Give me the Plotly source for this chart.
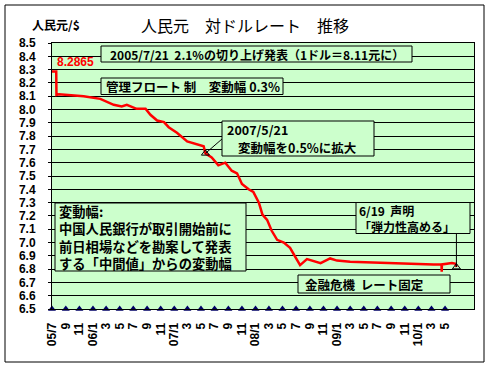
import plotly.graph_objects as go
import pandas as pd

# ---------------- data ----------------
rate_dates = [
    "2005-07-01", "2005-07-20", "2005-07-21", "2005-08-01", "2005-11-20",
    "2006-02-03", "2006-04-04", "2006-05-10", "2006-06-02", "2006-07-16",
    "2006-08-25", "2006-09-16", "2006-10-16", "2006-11-16", "2006-12-07",
    "2007-01-13", "2007-02-28", "2007-04-13", "2007-05-13", "2007-05-21",
    "2007-06-18", "2007-07-18", "2007-08-18", "2007-09-16", "2007-10-10",
    "2007-11-01", "2007-12-01", "2007-12-22", "2008-01-16", "2008-02-01",
    "2008-02-22", "2008-03-13", "2008-04-07", "2008-05-07", "2008-06-04",
    "2008-06-28", "2008-07-19", "2008-08-19", "2008-09-19", "2008-10-19",
    "2008-12-01", "2009-01-01", "2009-03-01", "2009-05-15", "2009-07-28",
    "2009-10-12", "2009-12-25", "2010-03-10", "2010-04-15", "2010-04-16",
    "2010-04-17", "2010-06-01", "2010-06-18", "2010-06-21",
]
rate_values = [
    8.2865, 8.2865, 8.110, 8.115, 8.100,
    8.080, 8.035, 8.023, 8.035, 8.005,
    8.005, 7.960, 7.917, 7.905, 7.867,
    7.825, 7.760, 7.742, 7.724, 7.670,
    7.640, 7.580, 7.600, 7.540, 7.520,
    7.440, 7.400, 7.380, 7.300, 7.210,
    7.170, 7.090, 7.020, 7.000, 6.960,
    6.890, 6.830, 6.875, 6.860, 6.845,
    6.880, 6.864, 6.855, 6.850, 6.845,
    6.840, 6.840, 6.835, 6.835, 6.780,
    6.835, 6.845, 6.840, 6.815,
]

tick_dates = [
    "2005-07-01", "2005-09-01", "2005-11-01", "2006-01-01", "2006-03-01",
    "2006-05-01", "2006-07-01", "2006-09-01", "2006-11-01", "2007-01-01",
    "2007-03-01", "2007-05-01", "2007-07-01", "2007-09-01", "2007-11-01",
    "2008-01-01", "2008-03-01", "2008-05-01", "2008-07-01", "2008-09-01",
    "2008-11-01", "2009-01-01", "2009-03-01", "2009-05-01", "2009-07-01",
    "2009-09-01", "2009-11-01", "2010-01-01", "2010-03-01", "2010-05-01",
]
tick_labels = [
    "05/7", "9", "11", "06/1", "3", "5", "7", "9", "11", "07/1",
    "3", "5", "7", "9", "11", "08/1", "3", "5", "7", "9",
    "11", "09/1", "3", "5", "7", "9", "11", "10/1", "3", "5",
]

callout_dates = ["2007-05-21", "2010-06-21"]
callout_values = [7.670, 6.815]

y_ticks = [round(6.5 + 0.1 * i, 1) for i in range(21)]

# ---------------- layout geometry ----------------
W, H = 491, 368
L, R, T, B = 52, 17, 43, 59
PW = W - L - R
PH = H - T - B
X_START, X_END = "2005-07-01", "2010-09-08"
Y_MIN, Y_MAX = 6.5, 8.5


def fx(px):
    return (px - L) / PW


def fy(py):
    return (H - B - py) / PH


t0 = pd.Timestamp(X_START)
t1 = pd.Timestamp(X_END)


def dx(d):
    return (pd.Timestamp(d) - t0) / (t1 - t0)


def dy(v):
    return (v - Y_MIN) / (Y_MAX - Y_MIN)


JP = "Noto Sans CJK JP"
GREEN = "#CCFFCC"

fig = go.Figure()

fig.add_trace(go.Scatter(
    x=rate_dates, y=rate_values, mode="lines",
    line=dict(color="#FF0000", width=2.5), hoverinfo="skip", showlegend=False,
))
fig.add_trace(go.Scatter(
    x=tick_dates, y=[Y_MIN] * len(tick_dates), mode="markers",
    marker=dict(symbol="triangle-up", size=7, color="#000066"),
    cliponaxis=False, hoverinfo="skip", showlegend=False,
))
fig.add_trace(go.Scatter(
    x=callout_dates, y=callout_values, mode="markers",
    marker=dict(symbol="triangle-up-open", size=7, color="black",
                line=dict(width=1, color="black")),
    cliponaxis=False, hoverinfo="skip", showlegend=False,
))

shapes = []
annotations = []


def box(x0, y0, x1, y1):
    shapes.append(dict(type="rect", xref="paper", yref="paper",
                       x0=fx(x0), x1=fx(x1), y0=fy(y1), y1=fy(y0),
                       fillcolor=GREEN, line=dict(color="black", width=1),
                       layer="above"))


def text(px, py, s, size=13, color="black", anchor="left", weight="bold",
         family=JP, valign="middle"):
    annotations.append(dict(xref="paper", yref="paper", x=fx(px), y=fy(py),
                            text=s, showarrow=False, xanchor=anchor, yanchor=valign,
                            align="left",
                            font=dict(family=family, size=size, color=color, weight=weight)))


# outer chart border
shapes.append(dict(type="rect", xref="paper", yref="paper",
                   x0=fx(5), x1=fx(484), y0=fy(362), y1=fy(5),
                   line=dict(color="black", width=1), layer="above"))

# connectors
shapes.append(dict(type="line", xref="paper", yref="paper",
                   x0=fx(222), y0=fy(139), x1=dx(callout_dates[0]), y1=dy(callout_values[0]),
                   line=dict(color="black", width=1), layer="above"))
shapes.append(dict(type="line", xref="paper", yref="paper",
                   x0=dx(callout_dates[1]), y0=fy(233), x1=dx(callout_dates[1]), y1=dy(callout_values[1]),
                   line=dict(color="black", width=1), layer="above"))

# boxes
box(101, 46, 412, 62)
text(256.5, 54.5, "2005/7/21  2.1%の切り上げ発表（1ドル＝8.11元に）", size=12, anchor="center")

box(101, 78, 283, 94.5)
text(104, 86.5, "管理フロート 制　変動幅 0.3%", size=12.5)

box(222, 121, 374, 156)
text(225, 129.5, "2007/5/21", size=12.5)
text(236, 147, "変動幅を0.5%に拡大", size=12.5)

box(55, 203, 246, 271)
text(57, 237, "変動幅:<br>中国人民銀行が取引開始前に<br>前日相場などを勘案して発表<br>する「中間値」からの変動幅",
     size=13.3)

box(356, 202.5, 470, 233.5)
text(357, 218.5, "6/19\u00a0\u00a0声明<br>「弾力性高める」", size=12)

box(298, 275, 450, 293)
text(303, 284, "金融危機\u00a0\u00a0レート固定", size=12.5)

# start value label
text(55, 62, "8.2865", size=12, color="#FF0000", family="Liberation Sans")

# titles
text(245, 25, "人民元　対ドルレート　推移", size=16, anchor="center", weight="normal")
text(30, 25, "人民元/$", size=12)

fig.update_layout(
    width=W, height=H,
    margin=dict(l=L, r=R, t=T, b=B, pad=0),
    paper_bgcolor="white", plot_bgcolor=GREEN,
    shapes=shapes, annotations=annotations, showlegend=False,
    xaxis=dict(
        type="date", range=[X_START, X_END],
        tickmode="array", tickvals=tick_dates, ticktext=tick_labels,
        tickangle=-90, ticks="", showgrid=False, zeroline=False,
        showline=True, linecolor="black", linewidth=1, mirror=True,
        tickfont=dict(family="Liberation Sans", size=12, color="black", weight="bold"),
        ticklabelstandoff=8,
    ),
    yaxis=dict(
        range=[Y_MIN, Y_MAX], tickmode="array", tickvals=y_ticks,
        ticktext=[f"{v:.1f}" for v in y_ticks],
        ticks="outside", ticklen=3, tickcolor="black",
        showgrid=True, gridcolor="black", gridwidth=1, zeroline=False,
        showline=True, linecolor="black", linewidth=1, mirror=True,
        tickfont=dict(family="Liberation Sans", size=12, color="black", weight="bold"),
        ticklabelstandoff=10,
    ),
)

fig.write_html("out.html", config={"displayModeBar": False},
               post_script="document.body.style.margin='0';")
